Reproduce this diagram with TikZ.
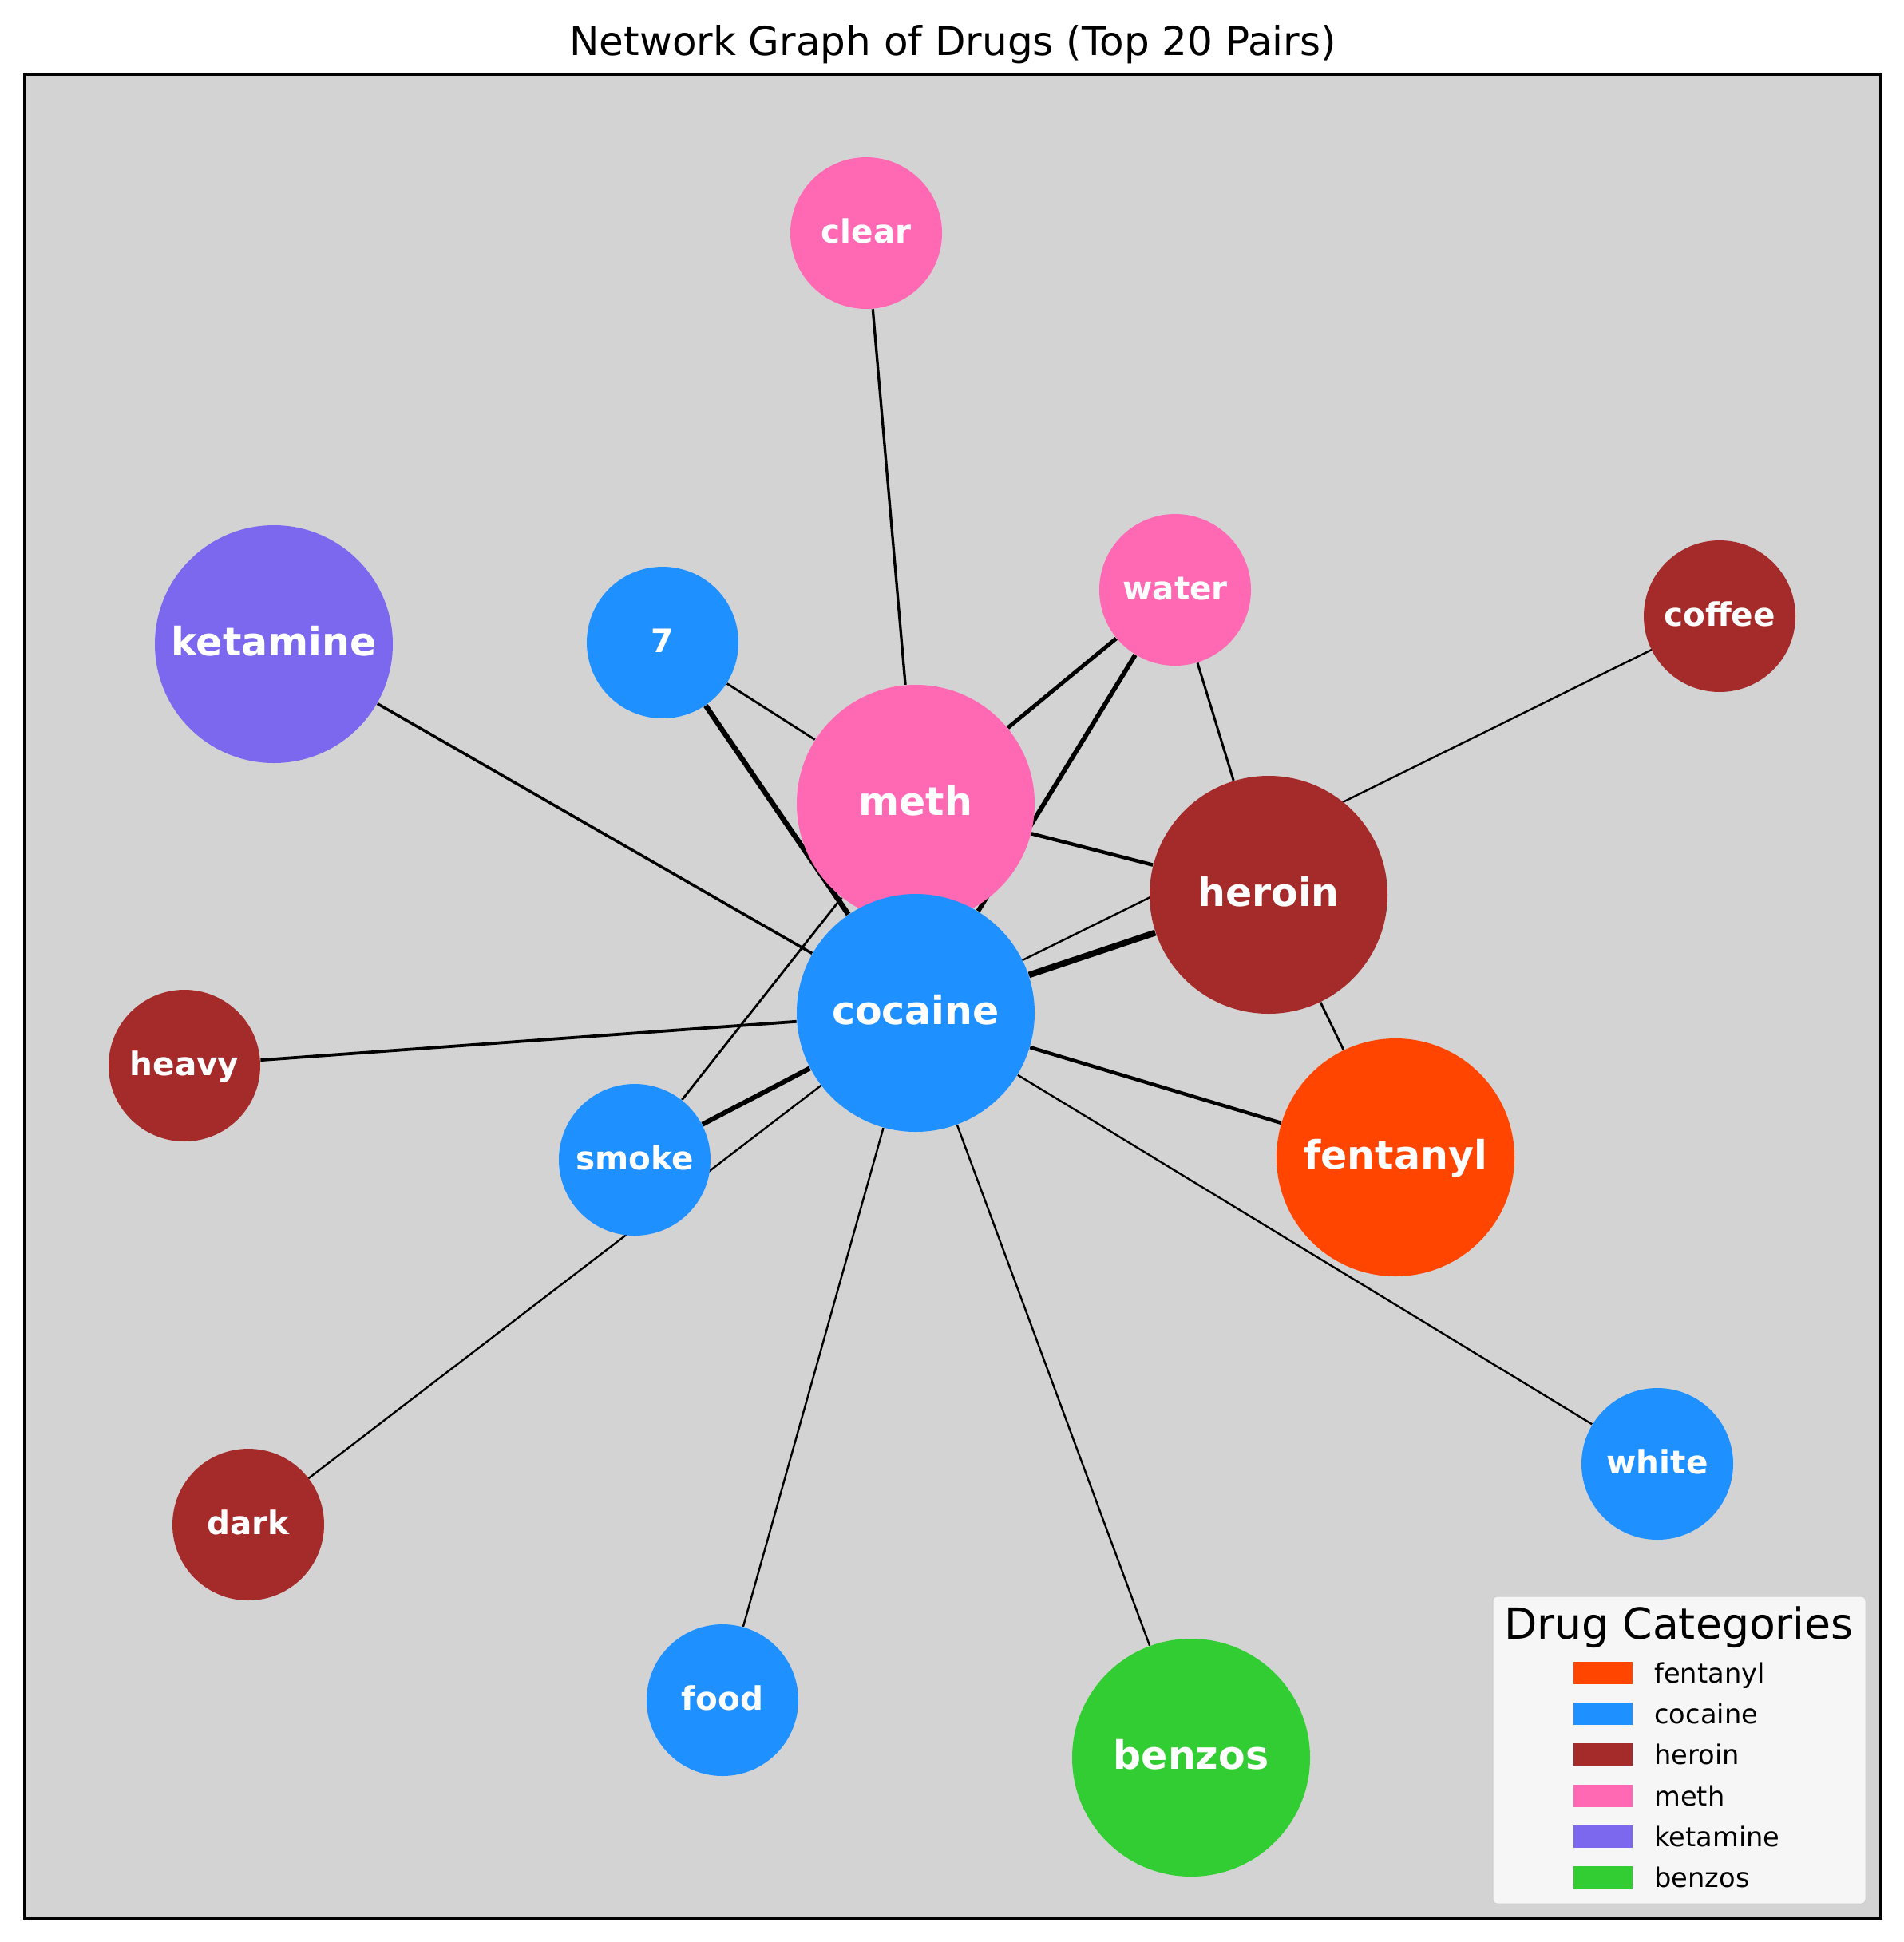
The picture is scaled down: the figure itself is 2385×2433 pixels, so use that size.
\documentclass[tikz,border=0pt]{standalone}
\usepackage{fontspec}
\setmainfont{DejaVu Sans}
\pgfdeclarelayer{bg}
\pgfdeclarelayer{edges}
\pgfsetlayers{bg,edges,main}
\definecolor{cfent}{HTML}{FF4500}
\definecolor{ccoc}{HTML}{1E90FF}
\definecolor{cher}{HTML}{A52A2A}
\definecolor{cmeth}{HTML}{FF69B4}
\definecolor{cket}{HTML}{7B68EE}
\definecolor{cbenz}{HTML}{32CD32}
\definecolor{cbg}{HTML}{D3D3D3}
\definecolor{clegfill}{HTML}{F6F6F6}
\definecolor{clegedge}{HTML}{CDCDCD}
\begin{document}
\begin{tikzpicture}[x=0.3pt,y=-0.3pt,
  bignode/.style={circle, inner sep=0pt, minimum size=89.4pt, text=white,
    font=\fontsize{14.7}{16}\selectfont\bfseries, text height=8.8pt, text depth=0pt, fill=#1},
  smallnode/.style={circle, inner sep=0pt, minimum size=57pt, text=white,
    font=\fontsize{12.15}{14}\selectfont\bfseries, text height=7.3pt, text depth=0pt, fill=#1},
  ew/.style={draw=black, line width=0.3pt*#1},
  legtext/.style={anchor=base west, inner sep=0pt, font=\fontsize{10.1}{12}\selectfont}
]
\useasboundingbox (0,0) rectangle (2385,2433);

\begin{pgfonlayer}{bg}
\draw[line width=1pt, fill=cbg] (31,93.5) rectangle (2355.5,2403.5);
\end{pgfonlayer}

\node[anchor=base, inner sep=0pt, font=\fontsize{15}{18}\selectfont] (title) at (1193.5,69) {Network Graph of Drugs (Top 20 Pairs)};

% nodes
\node[bignode=cmeth] (meth) at (1147,1007) {meth};
\node[bignode=ccoc] (cocaine) at (1147,1269) {cocaine};
\node[bignode=cher] (heroin) at (1589,1121) {heroin};
\node[bignode=cfent] (fentanyl) at (1748,1450) {fentanyl};
\node[bignode=cket] (ketamine) at (343,807) {ketamine};
\node[bignode=cbenz] (benzos) at (1492,2202) {benzos};
\node[smallnode=cmeth] (clear) at (1085,292) {clear};
\node[smallnode=cmeth] (water) at (1472,739) {water};
\node[smallnode=ccoc] (seven) at (830,805) {7};
\node[smallnode=cher] (coffee) at (2154,772) {coffee};
\node[smallnode=cher] (heavy) at (231,1335) {heavy};
\node[smallnode=ccoc] (smoke) at (795,1453) {smoke};
\node[smallnode=ccoc] (white) at (2076,1834) {white};
\node[smallnode=cher] (dark) at (311,1910) {dark};
\node[smallnode=ccoc] (food) at (905,2130) {food};

% edges
\begin{pgfonlayer}{edges}
\draw[ew=7.8] (heroin) -- (cocaine);
\draw[ew=6.5] (seven) -- (cocaine);
\draw[ew=5.7] (water) -- (cocaine);
\draw[ew=6] (smoke) -- (cocaine);
\draw[ew=5] (water) -- (meth);
\draw[ew=4.5] (fentanyl) -- (cocaine);
\draw[ew=4.5] (meth) -- (heroin);
\draw[ew=3.8] (heavy) -- (cocaine);
\draw[ew=3.5] (ketamine) -- (cocaine);
\draw[ew=3.3] (clear) -- (meth);
\draw[ew=2.8] (seven) -- (meth);
\draw[ew=2.8] (smoke) -- (meth);
\draw[ew=2.4] (coffee.center) -- (cocaine.center);
\draw[ew=2.4] (dark.center) -- (cocaine.center);
\draw[ew=3] (water) -- (heroin);
\draw[ew=2.8] (fentanyl) -- (heroin);
\draw[ew=2.4] (white) -- (cocaine);
\draw[ew=2.4] (food) -- (cocaine);
\draw[ew=2.4] (benzos) -- (cocaine);
\end{pgfonlayer}

% legend
\draw[fill=clegfill, draw=clegedge, line width=0.3pt, rounded corners=1.5pt] (1870,2000) rectangle (2337,2385);
\node[anchor=base, inner sep=0pt, font=\fontsize{16.1}{18}\selectfont] (legtitle) at (2103,2053.3) {Drug Categories};
\fill[cfent] (1970.7,2081.7) rectangle (2045,2110);
\node[legtext] (lfent) at (2071.7,2108.3) {fentanyl};
\fill[ccoc] (1970.7,2133) rectangle (2045,2161.3);
\node[legtext] (lcoc) at (2071.7,2159.6) {cocaine};
\fill[cher] (1970.7,2184) rectangle (2045,2212.3);
\node[legtext] (lher) at (2071.7,2210.6) {heroin};
\fill[cmeth] (1970.7,2236) rectangle (2045,2264.3);
\node[legtext] (lmeth) at (2071.7,2262.6) {meth};
\fill[cket] (1970.7,2287) rectangle (2045,2315.3);
\node[legtext] (lket) at (2071.7,2313.6) {ketamine};
\fill[cbenz] (1970.7,2338.3) rectangle (2045,2366.6);
\node[legtext] (lbenz) at (2071.7,2364.9) {benzos};
\end{tikzpicture}
\end{document}
